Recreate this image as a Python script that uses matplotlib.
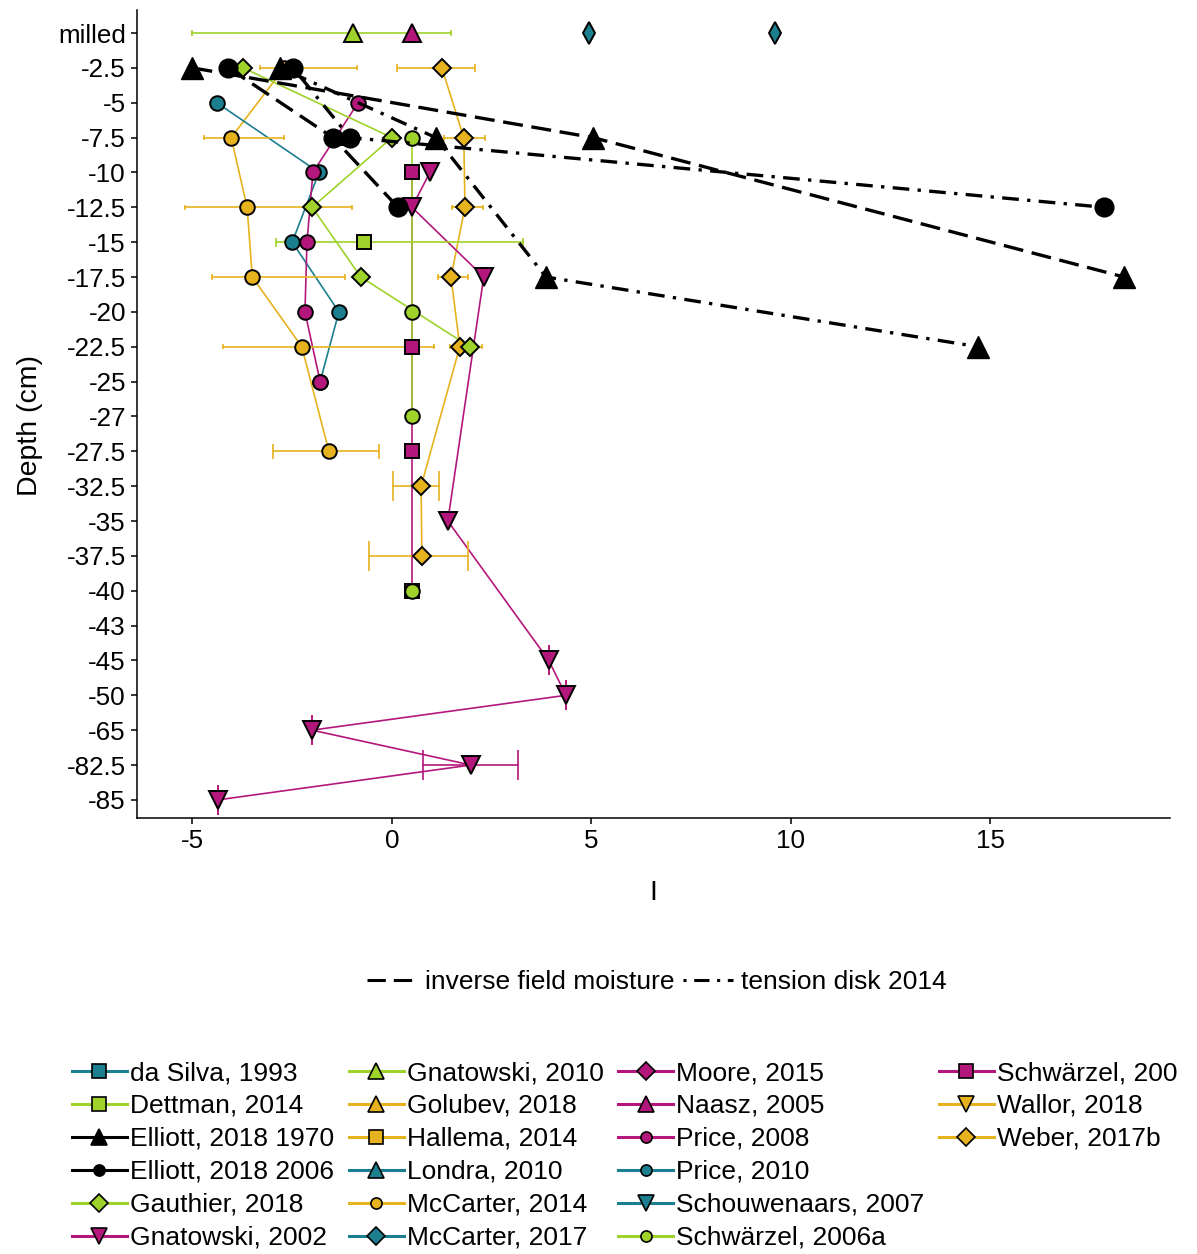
import matplotlib.pyplot as plt
from matplotlib.lines import Line2D

plt.rcParams['font.family'] = ['Liberation Sans', 'DejaVu Sans']

TEAL = '#1b7f8f'
LIME = '#9fd22a'
MAGENTA = '#b4177c'
GOLD = '#e6b31e'

# depth classes, top to bottom
depth_levels = ['milled', '-2.5', '-5', '-7.5', '-10', '-12.5', '-15', '-17.5',
                '-20', '-22.5', '-25', '-27', '-27.5', '-32.5', '-35', '-37.5',
                '-40', '-43', '-45', '-50', '-65', '-82.5', '-85']

# --- study profiles (I per depth, with horizontal error ranges where given) ---
gnat2010_depth = ['milled']
gnat2010_I = [-0.98]
gnat2010_lo = [-5.0]
gnat2010_hi = [1.48]

naasz_depth = ['milled']
naasz_I = [0.5]

mccarter17_depth = ['milled', 'milled']
mccarter17_I = [4.94, 9.6]

gauthier_depth = ['-2.5', '-7.5', '-12.5', '-17.5', '-22.5']
gauthier_I = [-3.73, 0.0, -2.0, -0.78, 1.95]

dettman_depth = ['-15']
dettman_I = [-0.7]
dettman_lo = [-2.9]
dettman_hi = [3.28]

schw06a_depth = ['-7.5', '-20', '-27']
schw06a_I = [0.5, 0.5, 0.5]
schw06a_deep_depth = ['-40']
schw06a_deep_I = [0.5]

schw06b_depth = ['-10', '-22.5', '-27.5', '-40']
schw06b_I = [0.5, 0.5, 0.5, 0.5]

gnat2002_depth = ['-10', '-12.5', '-17.5', '-35', '-45', '-50', '-65', '-82.5', '-85']
gnat2002_I = [0.95, 0.5, 2.3, 1.4, 3.93, 4.36, -2.0, 1.98, -4.36]
gnat2002_lo = [None, None, None, None, 3.93, 4.36, -2.0, 0.78, -4.36]
gnat2002_hi = [None, None, None, None, 3.93, 4.36, -2.0, 3.16, -4.36]

price08_depth = ['-5', '-10', '-15', '-20', '-25']
price08_I = [-0.85, -1.98, -2.13, -2.18, -1.8]

price10_depth = ['-5', '-10', '-15', '-20', '-25']
price10_I = [-4.39, -1.83, -2.5, -1.33, -1.8]

mccarter14_depth = ['-2.5', '-7.5', '-12.5', '-17.5', '-22.5', '-27.5']
mccarter14_I = [-2.7, -4.03, -3.63, -3.5, -2.26, -1.58]
mccarter14_lo = [-3.3, -4.7, -5.19, -4.5, -4.24, -2.98]
mccarter14_hi = [-0.88, -2.7, -1.0, -1.18, 1.05, -0.33]

weber_depth = ['-2.5', '-7.5', '-12.5', '-17.5', '-22.5', '-32.5', '-37.5']
weber_I = [1.25, 1.8, 1.83, 1.48, 1.7, 0.73, 0.75]
weber_lo = [0.13, 1.3, 1.5, 1.15, 1.45, 0.03, -0.58]
weber_hi = [2.08, 2.33, 2.28, 1.9, 2.25, 1.18, 1.9]

golubev_depth = ['-7.5']
golubev_I = [-1.3]

# Elliott 2018: two survey years, two methods
e1970_inv_depth = ['-2.5', '-7.5', '-17.5']
e1970_inv_I = [-5.0, 5.04, 18.35]
e1970_ten_depth = ['-2.5', '-7.5', '-17.5', '-22.5']
e1970_ten_I = [-2.8, 1.1, 3.86, 14.69]
e2006_inv_depth = ['-2.5', '-7.5', '-12.5']
e2006_inv_I = [-4.1, -1.48, 0.15]
e2006_ten_depth = ['-2.5', '-7.5', '-12.5']
e2006_ten_I = [-2.48, -1.05, 17.85]

x_ticks = [-5, 0, 5, 10, 15]

ypos = {d: i for i, d in enumerate(depth_levels)}

LONGDASH = (0, (6, 2.6))
DOTDASH = (0, (1, 2.5, 5, 2.5))

fig = plt.figure(figsize=(11.97, 12.54), dpi=100)
ax = fig.add_axes([137 / 1197, 1 - 818 / 1254, 1033 / 1197, 808 / 1254])


def ys(depths):
    return [ypos[d] for d in depths]


def profile(depths, xs, color, marker, ms, line=True, lz=2, pz=3):
    y = ys(depths)
    if line:
        ax.plot(xs, y, color=color, lw=1.2, zorder=lz)
    ax.plot(xs, y, ls='none', marker=marker, ms=ms, mfc=color, mec='black',
            mew=1.4, zorder=pz)


def hbars(depths, lo, hi, color, caps):
    for d, a, b, c in zip(depths, lo, hi, caps):
        if a is None:
            continue
        y = ypos[d]
        ax.plot([a, b], [y, y], color=color, lw=1.2, zorder=2.5)
        ax.vlines([a, b], y - c / 2, y + c / 2, color=color, lw=1.2, zorder=2.5)


# error bars
hbars(gnat2010_depth, gnat2010_lo, gnat2010_hi, LIME, [0.15])
hbars(dettman_depth, dettman_lo, dettman_hi, LIME, [0.25])
hbars(mccarter14_depth, mccarter14_lo, mccarter14_hi, GOLD,
      [0.15, 0.15, 0.15, 0.17, 0.15, 0.43])
hbars(weber_depth, weber_lo, weber_hi, GOLD,
      [0.23, 0.17, 0.15, 0.17, 0.15, 0.86, 0.86])
hbars(gnat2002_depth, gnat2002_lo, gnat2002_hi, MAGENTA, [0.86] * 9)

# coloured profiles
profile(golubev_depth, golubev_I, GOLD, '^', 10, line=False)
profile(mccarter14_depth, mccarter14_I, GOLD, 'o', 10.5)
profile(weber_depth, weber_I, GOLD, 'D', 9.5)
profile(price10_depth, price10_I, TEAL, 'o', 10.5)
profile(price08_depth, price08_I, MAGENTA, 'o', 10.5)
profile(schw06b_depth, schw06b_I, MAGENTA, 's', 10.5)
profile(schw06a_depth, schw06a_I, LIME, 'o', 10.5, lz=2.2)
profile(schw06a_deep_depth, schw06a_deep_I, LIME, 'o', 10.5, line=False)
profile(gauthier_depth, gauthier_I, LIME, 'D', 9.5)
profile(dettman_depth, dettman_I, LIME, 's', 10.5, line=False)
profile(gnat2002_depth, gnat2002_I, MAGENTA, 'v', 13)
profile(gnat2010_depth, gnat2010_I, LIME, '^', 13, line=False)
profile(naasz_depth, naasz_I, MAGENTA, '^', 13, line=False)
profile(mccarter17_depth, mccarter17_I, TEAL, 'd', 11, line=False)

# Elliott 2018 on top
for depths, xs, ls, mk, ms in [
        (e1970_inv_depth, e1970_inv_I, LONGDASH, '^', 16),
        (e1970_ten_depth, e1970_ten_I, DOTDASH, '^', 16),
        (e2006_inv_depth, e2006_inv_I, LONGDASH, 'o', 13.5),
        (e2006_ten_depth, e2006_ten_I, DOTDASH, 'o', 13.5)]:
    ax.plot(xs, ys(depths), color='black', lw=2.4, ls=ls, zorder=4)
    ax.plot(xs, ys(depths), ls='none', marker=mk, ms=ms, color='black', zorder=5)

ax.set_xlim(-6.39, 19.5)
ax.set_ylim(22.52, -0.66)
ax.set_xticks(x_ticks)
ax.set_xticklabels([str(t) for t in x_ticks])
ax.set_yticks(range(len(depth_levels)))
ax.set_yticklabels(depth_levels)
ax.tick_params(labelsize=18.7, length=4, width=1.1, colors='black', pad=4)
for s in ['top', 'right']:
    ax.spines[s].set_visible(False)
for s in ['left', 'bottom']:
    ax.spines[s].set_linewidth(1.1)

ax.set_xlabel('I', fontsize=20.5, va='center')
ax.xaxis.set_label_coords(0.5, -0.0928)
ax.set_ylabel('Depth (cm)', fontsize=20.5, va='center')
ax.yaxis.set_label_coords(-0.1036, 0.486)

# method legend
method_handles = [Line2D([], [], color='black', lw=2.2, ls=LONGDASH),
                  Line2D([], [], color='black', lw=2.2, ls=DOTDASH)]
fig.legend(method_handles, ['inverse field moisture', 'tension disk 2014'],
           loc='center', bbox_to_anchor=(657 / 1197, 1 - 982 / 1254), ncol=2,
           frameon=False, fontsize=19, handlelength=1.9, handletextpad=0.3,
           columnspacing=0.3, borderpad=0, borderaxespad=0)

# study legend
studies = [
    ('da Silva, 1993', TEAL, 's', 10),
    ('Dettman, 2014', LIME, 's', 10),
    ('Elliott, 2018 1970', 'black', '^', 12),
    ('Elliott, 2018 2006', 'black', 'o', 8),
    ('Gauthier, 2018', LIME, 'D', 9),
    ('Gnatowski, 2002', MAGENTA, 'v', 12),
    ('Gnatowski, 2010', LIME, '^', 12),
    ('Golubev, 2018', GOLD, '^', 12),
    ('Hallema, 2014', GOLD, 's', 10),
    ('Londra, 2010', TEAL, '^', 12),
    ('McCarter, 2014', GOLD, 'o', 8),
    ('McCarter, 2017', TEAL, 'D', 9),
    ('Moore, 2015', MAGENTA, 'D', 9),
    ('Naasz, 2005', MAGENTA, '^', 12),
    ('Price, 2008', MAGENTA, 'o', 8),
    ('Price, 2010', TEAL, 'o', 8),
    ('Schouwenaars, 2007', TEAL, 'v', 12),
    ('Schwärzel, 2006a', LIME, 'o', 8),
    ('Schwärzel, 200', MAGENTA, 's', 10),
    ('Wallor, 2018', GOLD, 'v', 12),
    ('Weber, 2017b', GOLD, 'D', 9),
]
handles, labels = [], []
for name, col, mk, ms in studies:
    handles.append(Line2D([], [], color=col, lw=2.2, marker=mk, ms=ms,
                          mfc=col, mec='black', mew=1.2))
    labels.append(name)
for _ in range(3):
    handles.append(Line2D([], [], ls='none'))
    labels.append('')
fig.legend(handles, labels, loc='upper left',
           bbox_to_anchor=(72 / 1197, 1 - 1061 / 1254), ncol=4, frameon=False,
           fontsize=19, handlelength=2.08, handletextpad=0.12,
           columnspacing=0.55, labelspacing=0.34, borderpad=0, borderaxespad=0)

fig.savefig('out.png', dpi=100)
